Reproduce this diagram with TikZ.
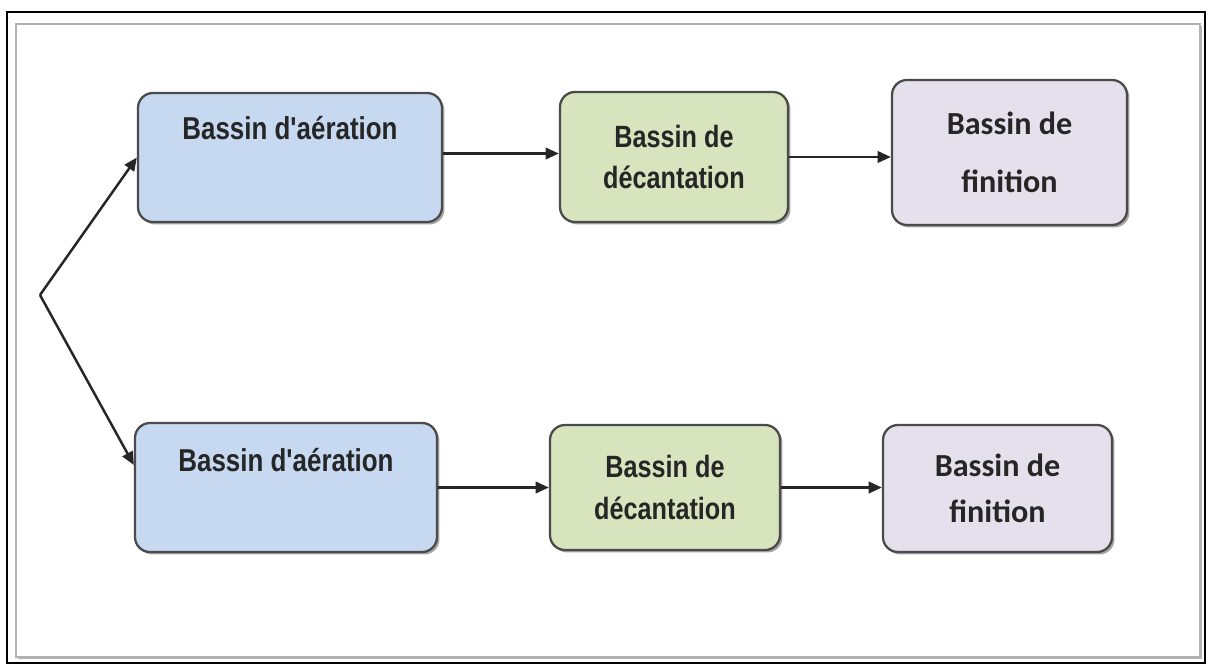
\documentclass[tikz,border=0pt]{standalone}
\usepackage{fontspec}
\newfontfamily\narrowsans[FakeStretch=0.82]{Liberation Sans}
\newfontfamily\calibsans{Carlito}
\definecolor{aer_blue}{RGB}{198, 217, 241}
\definecolor{dec_green}{RGB}{215, 228, 189}
\definecolor{fin_lilac}{RGB}{229, 224, 236}
\definecolor{box_edge}{RGB}{75, 75, 75}
\usepackage{tikz}
\usetikzlibrary{arrows.meta, shadows}

\begin{document}
\begin{tikzpicture}[
        bx/.style={draw=box_edge, line width=1.3pt, rounded corners=0.3cm,
                   inner sep=0pt, align=center, text=black!85,
                   drop shadow={shadow xshift=1.4pt, shadow yshift=-1.4pt, opacity=0.7}},
        aer/.style={bx, fill=aer_blue,
                    font=\narrowsans\bfseries\fontsize{18}{24}\selectfont},
        dec/.style={bx, fill=dec_green,
                    font=\narrowsans\bfseries\fontsize{17.5}{23.5}\selectfont},
        fin/.style={bx, fill=fin_lilac,
                    font=\calibsans\bfseries\fontsize{18.3}{26}\selectfont},
        flow/.style={-{Triangle[length=7.5pt, width=6.5pt]}, line width=1.4pt,
                     draw=black!85}]
        \useasboundingbox (0,0) rectangle (24.32,-13.30);
        \draw[line width=1.4pt] (0.14,-0.24) rectangle (24.10,-13.26);
        \draw[draw=gray!60, fill=white, line width=1.3pt,
              drop shadow={shadow xshift=1.2pt, shadow yshift=-1.2pt, opacity=0.6}]
          (0.32,-0.48) rectangle (24.00,-13.14);

        \node[aer, minimum width=6.08cm, minimum height=2.58cm] (a1) at (5.80,-3.15)
          {Bassin d'aération\\[2pt]\strut};
        \node[dec, minimum width=4.56cm, minimum height=2.60cm] (d1) at (13.48,-3.14)
          {Bassin de\\décantation};
        \node[fin, minimum width=4.70cm, minimum height=2.90cm,
              font=\calibsans\bfseries\fontsize{18.3}{33}\selectfont] (f1) at (20.19,-3.05)
          {Bassin de\\finition};

        \node[aer, minimum width=6.04cm, minimum height=2.58cm] (a2) at (5.72,-9.75)
          {Bassin d'aération\\\strut};
        \node[dec, minimum width=4.60cm, minimum height=2.50cm] (d2) at (13.30,-9.75)
          {Bassin de\\décantation};
        \node[fin, minimum width=4.58cm, minimum height=2.54cm] (f2) at (19.95,-9.77)
          {Bassin de\\finition};

        \coordinate (split) at (0.80,-5.90);
        \draw[flow] (split) -- (a1.west);
        \draw[flow] (split) -- ([yshift=0.45cm]a2.west);
        \draw[flow] ([yshift=0.08cm]a1.east) -- ([yshift=0.08cm]a1.east -| d1.west);
        \draw[flow] (d1.east) -- (d1.east -| f1.west);
        \draw[flow] (a2.east) -- (a2.east -| d2.west);
        \draw[flow] (d2.east) -- (d2.east -| f2.west);
      \end{tikzpicture}
\end{document}
